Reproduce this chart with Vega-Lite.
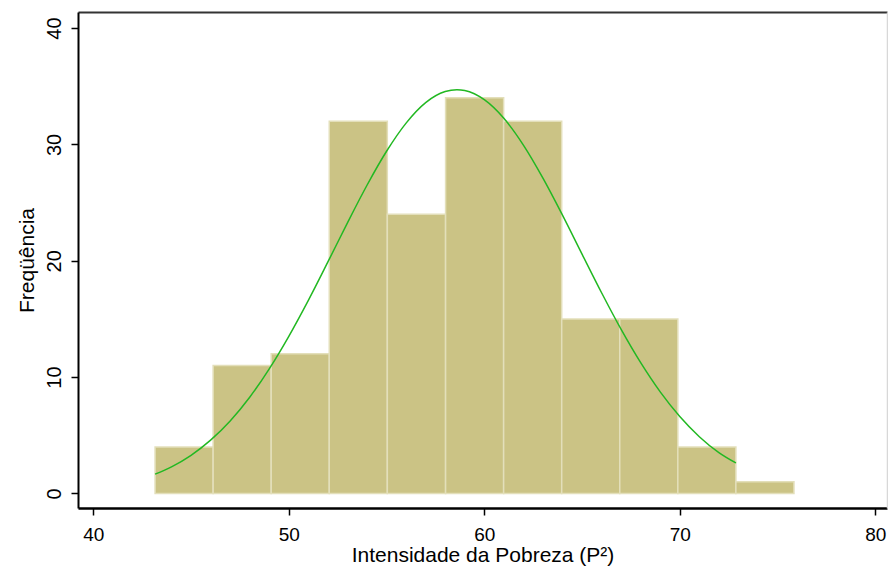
{
  "$schema": "https://vega.github.io/schema/vega-lite/v6.json",
  "width": 809,
  "height": 496,
  "autosize": {"type": "none"},
  "padding": {"left": 78, "top": 12, "right": 1, "bottom": 59},
  "background": "white",
  "config": {"view": {"stroke": null}, "font": "Liberation Sans"},
  "datasets": {
    "bins": [
      {"x0": 43.16, "x1": 46.13, "count": 4},
      {"x0": 46.13, "x1": 49.10, "count": 11},
      {"x0": 49.10, "x1": 52.07, "count": 12},
      {"x0": 52.07, "x1": 55.04, "count": 32},
      {"x0": 55.04, "x1": 58.02, "count": 24},
      {"x0": 58.02, "x1": 60.99, "count": 34},
      {"x0": 60.99, "x1": 63.96, "count": 32},
      {"x0": 63.96, "x1": 66.93, "count": 15},
      {"x0": 66.93, "x1": 69.90, "count": 15},
      {"x0": 69.90, "x1": 72.87, "count": 4},
      {"x0": 72.87, "x1": 75.84, "count": 1}
    ],
    "curve": [
      {"x": 43.16, "f": 1.66},
      {"x": 44, "f": 2.29},
      {"x": 45, "f": 3.28},
      {"x": 46, "f": 4.58},
      {"x": 47, "f": 6.23},
      {"x": 48, "f": 8.27},
      {"x": 49, "f": 10.71},
      {"x": 50, "f": 13.51},
      {"x": 51, "f": 16.60},
      {"x": 52, "f": 19.90},
      {"x": 53, "f": 23.26},
      {"x": 54, "f": 26.49},
      {"x": 55, "f": 29.41},
      {"x": 56, "f": 31.83},
      {"x": 57, "f": 33.59},
      {"x": 58, "f": 34.54},
      {"x": 58.6, "f": 34.7},
      {"x": 59, "f": 34.63},
      {"x": 60, "f": 33.84},
      {"x": 61, "f": 32.24},
      {"x": 62, "f": 29.94},
      {"x": 63, "f": 27.10},
      {"x": 64, "f": 23.92},
      {"x": 65, "f": 20.57},
      {"x": 66, "f": 17.25},
      {"x": 67, "f": 14.10},
      {"x": 68, "f": 11.24},
      {"x": 69, "f": 8.73},
      {"x": 70, "f": 6.61},
      {"x": 71, "f": 4.88},
      {"x": 72, "f": 3.51},
      {"x": 72.87, "f": 2.62}
    ]
  },
  "layer": [
    {
      "data": {"name": "bins"},
      "mark": {"type": "rect", "fill": "#CBC385", "stroke": "#E3DFBA", "strokeWidth": 1.5},
      "encoding": {
        "x": {
          "field": "x0", "type": "quantitative",
          "scale": {"domain": [39.217, 80.6], "nice": false, "zero": false},
          "axis": {
            "orient": "bottom", "values": [40, 50, 60, 70, 80], "grid": false,
            "domainColor": "black", "domainWidth": 2.5,
            "tickColor": "black", "tickWidth": 1.5, "tickSize": 7,
            "labelFontSize": 19, "labelColor": "black", "labelPadding": 10,
            "labelFlush": false, "labelOverlap": false,
            "title": "Intensidade da Pobreza (P²)", "titleFontSize": 21,
            "titleFontWeight": "normal", "titleColor": "black",
            "titleBaseline": "alphabetic", "titleY": 53
          }
        },
        "x2": {"field": "x1"},
        "y": {
          "field": "count", "type": "quantitative",
          "scale": {"domain": [-1.25, 41.38], "nice": false, "zero": false},
          "axis": {
            "orient": "left", "values": [0, 10, 20, 30, 40], "grid": false,
            "domainColor": "black", "domainWidth": 2,
            "tickColor": "black", "tickWidth": 1.5, "tickSize": 7,
            "labelFontSize": 20, "labelColor": "black", "labelPadding": 11,
            "labelAngle": -90, "labelAlign": "center", "labelBaseline": "alphabetic",
            "labelFlush": false, "labelOverlap": false,
            "title": "Freqüência", "titleFontSize": 21,
            "titleFontWeight": "normal", "titleColor": "black",
            "titleAngle": -90, "titleBaseline": "alphabetic", "titleX": -45
          }
        },
        "y2": {"datum": 0}
      }
    },
    {
      "data": {"name": "curve"},
      "mark": {"type": "line", "color": "#22B822", "strokeWidth": 1.5, "interpolate": "monotone"},
      "encoding": {
        "x": {
          "field": "x", "type": "quantitative",
          "axis": {"orient": "top", "labels": false, "ticks": false, "title": null, "grid": false, "domainColor": "#333333", "domainWidth": 2}
        },
        "y": {
          "field": "f", "type": "quantitative",
          "axis": {"orient": "right", "labels": false, "ticks": false, "title": null, "grid": false, "domainColor": "#d8d8d8", "domainWidth": 1.5}
        }
      }
    }
  ]
}
